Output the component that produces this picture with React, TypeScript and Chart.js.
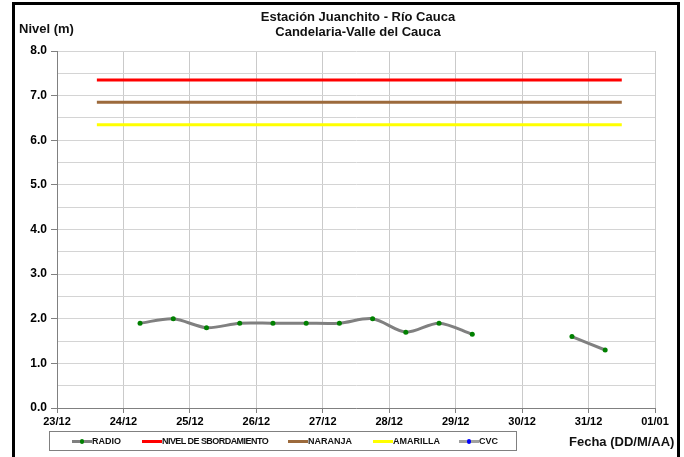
import React, { useEffect, useRef } from "react";
import { Chart, registerables } from "chart.js";

Chart.register(...registerables);

// X tick labels (one per day, starting 23/12 00:00)
const dayLabels = ["23/12", "24/12", "25/12", "26/12", "27/12", "28/12", "29/12", "30/12", "31/12", "01/01"];

// RADIO series: time in days since 23/12 00:00, level (m); null = no reading
const radioTimes = [1.25, 1.75, 2.25, 2.75, 3.25, 3.75, 4.25, 4.75, 5.25, 5.75, 6.25, 6.75, 7.25, 7.75, 8.25];
const radioLevels = [1.9, 2.0, 1.8, 1.9, 1.9, 1.9, 1.9, 2.0, 1.7, 1.9, 1.65, null, null, 1.6, 1.3];

// Threshold levels (m)
const nivelDesbordamiento = 7.35;
const naranja = 6.85;
const amarilla = 6.35;
const thresholdTimes = [0.6, 8.5];

// CVC series (no data in period)
const cvcTimes: number[] = [];
const cvcLevels: number[] = [];

const FONT = "'Liberation Sans', Arial, sans-serif";

export default function App() {
  const ref = useRef<HTMLCanvasElement>(null);

  useEffect(() => {
    const ctx = ref.current!;
    const flat = (v: number) => thresholdTimes.map((t) => ({ x: t, y: v }));
    const chart = new Chart(ctx, {
      type: "line",
      data: {
        datasets: [
          {
            label: "RADIO",
            data: radioTimes.map((t, i) => ({ x: t, y: radioLevels[i] as any })),
            borderColor: "#808080",
            borderWidth: 3,
            pointBackgroundColor: "#008000",
            pointBorderColor: "#008000",
            pointRadius: 2.5,
            pointBorderWidth: 0,
            tension: 0.3,
            spanGaps: false,
          },
          {
            label: "NIVEL DE SBORDAMIENTO",
            data: flat(nivelDesbordamiento),
            borderColor: "#ff0000",
            borderWidth: 3,
            pointRadius: 0,
          },
          {
            label: "NARANJA",
            data: flat(naranja),
            borderColor: "#9c6a3c",
            borderWidth: 3,
            pointRadius: 0,
          },
          {
            label: "AMARILLA",
            data: flat(amarilla),
            borderColor: "#ffff00",
            borderWidth: 3,
            pointRadius: 0,
          },
          {
            label: "CVC",
            data: cvcTimes.map((t, i) => ({ x: t, y: cvcLevels[i] })),
            borderColor: "#a0a0a0",
            pointBackgroundColor: "#0000ff",
            borderWidth: 2,
            pointRadius: 2,
          },
        ],
      },
      options: {
        animation: false,
        responsive: false,
        layout: { padding: { top: 51, right: 29, left: 0, bottom: 0 } },
        plugins: { legend: { display: false }, tooltip: { enabled: false }, title: { display: false } },
        scales: {
          x: {
            type: "linear",
            min: 0,
            max: 9,
            afterFit: (s: any) => {
              s.height = 49;
            },
            ticks: {
              stepSize: 1,
              autoSkip: false,
              maxRotation: 0,
              padding: 2,
              color: "#000",
              font: { family: FONT, size: 11, weight: "bold" },
              callback: (v: any) => dayLabels[Math.round(Number(v))] ?? "",
            },
            grid: { color: "#cacaca", lineWidth: 1, tickLength: 5, tickColor: "#808080" },
            border: { color: "#808080", width: 1 },
          },
          y: {
            min: 0,
            max: 8,
            afterFit: (s: any) => {
              s.width = 57;
            },
            ticks: {
              stepSize: 0.5,
              padding: 4,
              color: "#000",
              font: { family: FONT, size: 12, weight: "bold" },
              callback: (v: any) => (Number(v) % 1 === 0 ? Number(v).toFixed(1) : ""),
            },
            grid: {
              color: "#d4d4d4",
              lineWidth: 1,
              tickLength: 6,
              tickColor: (c: any) => (c.tick && c.tick.value % 1 === 0 ? "#808080" : "rgba(0,0,0,0)"),
            },
            border: { color: "#808080", width: 1 },
          },
        },
      },
    } as any);
    return () => chart.destroy();
  }, []);

  const txt: React.CSSProperties = {
    position: "absolute",
    fontFamily: FONT,
    fontWeight: "bold",
    color: "#111",
    whiteSpace: "nowrap",
    lineHeight: 1,
  };

  const legendItems = [
    { label: "RADIO", color: "#808080", dot: "#008000", lx: 72, ls: 0 },
    { label: "NIVEL DE SBORDAMIENTO", color: "#ff0000", dot: null, lx: 142, ls: -0.55 },
    { label: "NARANJA", color: "#9c6a3c", dot: null, lx: 288, ls: 0 },
    { label: "AMARILLA", color: "#ffff00", dot: null, lx: 373, ls: 0 },
    { label: "CVC", color: "#a0a0a0", dot: "#0000ff", lx: 459, ls: 0 },
  ];

  return (
    <div style={{ position: "fixed", left: 0, top: 0, width: 684, height: 457, background: "#fff", overflow: "hidden" }}>
      <canvas ref={ref} width={684} height={457} style={{ position: "absolute", left: 0, top: 0, width: 684, height: 457 }} />
      <div
        style={{
          position: "absolute",
          left: 12,
          top: 2,
          width: 662,
          height: 480,
          border: "3px solid #000",
          pointerEvents: "none",
        }}
      />
      <div style={{ ...txt, left: 0, width: 716, top: 10, fontSize: 13, textAlign: "center" }}>Estación Juanchito - Río Cauca</div>
      <div style={{ ...txt, left: 0, width: 716, top: 25, fontSize: 13, textAlign: "center" }}>Candelaria-Valle del Cauca</div>
      <div style={{ ...txt, left: 19, top: 22, fontSize: 13 }}>Nivel (m)</div>
      <div style={{ ...txt, left: 569, top: 435, fontSize: 13 }}>Fecha (DD/M/AA)</div>
      <div
        style={{
          position: "absolute",
          left: 49,
          top: 431,
          width: 468,
          height: 20,
          border: "1px solid #808080",
          boxSizing: "border-box",
        }}
      />
      {legendItems.map((it) => (
        <div key={it.label} style={{ position: "absolute", left: it.lx, top: 436, height: 10, display: "flex", alignItems: "center" }}>
          <div style={{ position: "relative", width: 20, height: 3, background: it.color }}>
            {it.dot && (
              <div
                style={{
                  position: "absolute",
                  left: 8,
                  top: -1,
                  width: 4,
                  height: 5,
                  borderRadius: 2,
                  background: it.dot,
                }}
              />
            )}
          </div>
          <span style={{ fontFamily: FONT, fontWeight: "bold", fontSize: 9, color: "#111", letterSpacing: it.ls }}>{it.label}</span>
        </div>
      ))}
    </div>
  );
}
